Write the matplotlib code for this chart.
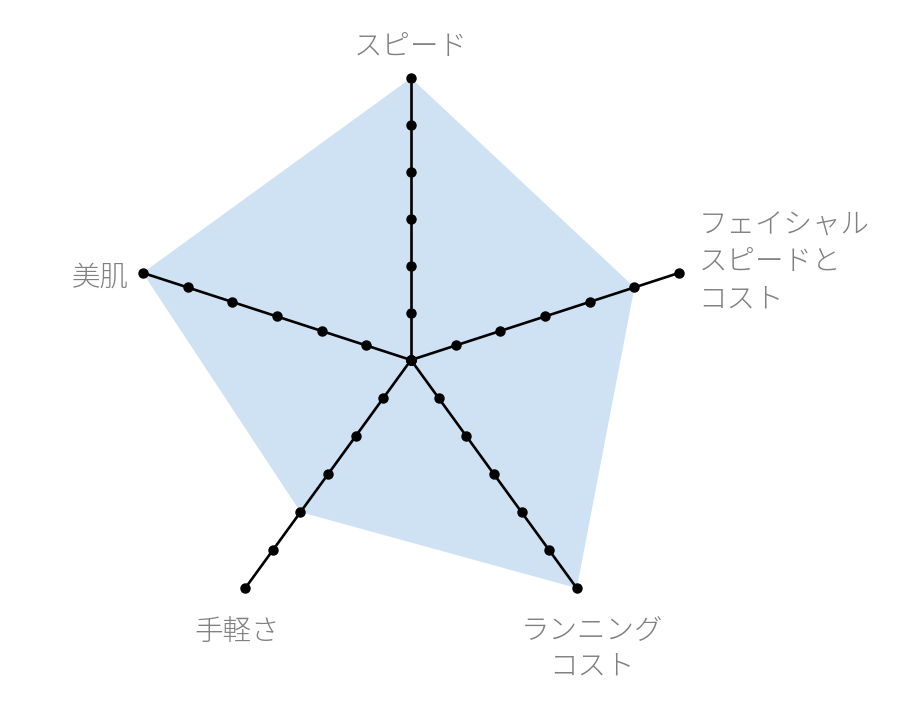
import numpy as np
import matplotlib.pyplot as plt

plt.rcParams["font.family"] = ["Noto Sans CJK JP", "DejaVu Sans"]

# axes clockwise from the top
categories = ["スピード", "フェイシャル\nスピードと\nコスト", "ランニング\nコスト", "手軽さ", "美肌"]
values = [6, 5, 6, 4, 6]
max_value = 6

angles = np.deg2rad(np.arange(len(categories)) * 72.0)
xs = np.sin(angles)
ys = np.cos(angles)

fig = plt.figure(figsize=(9, 7.07), dpi=100)
ax = fig.add_axes([0, 0, 1, 1])
ax.set_xlim(-411 / 47, 489 / 47)
ax.set_ylim(-347 / 47, 360 / 47)
ax.axis("off")

# filled area
vals = np.array(values, dtype=float)
ax.fill(vals * xs, vals * ys, color="#cfe2f3", lw=0, zorder=1)

# spokes with tick dots
steps = np.arange(0, max_value + 1)
for x, y in zip(xs, ys):
    ax.plot(steps * x, steps * y, color="black", lw=1.9, marker="o",
            markersize=6.5, zorder=3)

# labels
label_pos = [
    ((0.0, 6.66), "center"),
    ((6.12, 2.08), "left"),
    ((3.86, -6.13), "center"),
    ((-3.70, -5.79), "center"),
    ((-6.0, 1.75), "right"),
]
for name, ((lx, ly), ha) in zip(categories, label_pos):
    ax.text(lx, ly, name, ha=ha, va="center", fontsize=20.5, color="#808080",
            fontweight="light", linespacing=1.27, multialignment=ha)

fig.savefig("out.png", dpi=100)
